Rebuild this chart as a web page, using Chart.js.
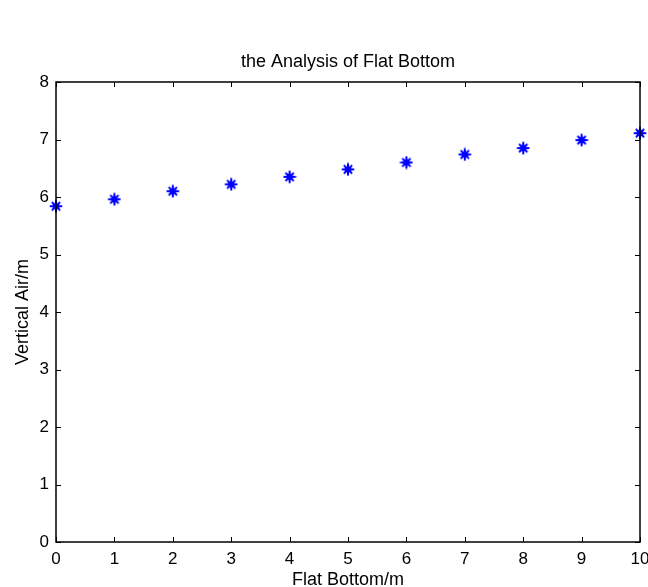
<!DOCTYPE html>
<html>
<head>
<meta charset="utf-8">
<script src="https://cdn.jsdelivr.net/npm/chart.js@4/dist/chart.umd.min.js"></script>
<style>
  html, body { margin: 0; padding: 0; background: #ffffff; }
  #wrap { width: 648px; height: 587px; }
</style>
</head>
<body>
<div id="wrap"><canvas id="c" width="648" height="587"></canvas></div>
<script>
// Flat bottom positions (m) and the vertical air measured at each one (m)
const flatBottom = [0, 1, 2, 3, 4, 5, 6, 7, 8, 9, 10];
const verticalAir = [5.84, 5.96, 6.10, 6.22, 6.35, 6.48, 6.60, 6.74, 6.85, 6.99, 7.11];

const xTicks = [0, 1, 2, 3, 4, 5, 6, 7, 8, 9, 10];
const yTicks = [0, 1, 2, 3, 4, 5, 6, 7, 8];

const FONT = "'Liberation Sans', Arial, sans-serif";
const BLUE = '#0000ff';

// Asterisk-style marker with a solid core, drawn once into a small canvas
function makeMarker() {
  const m = document.createElement('canvas');
  m.width = 14; m.height = 14;
  const g = m.getContext('2d');
  g.strokeStyle = BLUE;
  g.fillStyle = BLUE;
  g.lineWidth = 2;
  g.lineCap = 'round';
  const c = 7, r = 5.5;
  g.beginPath();
  g.moveTo(c - r, c); g.lineTo(c + r, c);
  g.moveTo(c, c - r); g.lineTo(c, c + r);
  g.moveTo(c - r * 0.65, c - r * 0.65); g.lineTo(c + r * 0.65, c + r * 0.65);
  g.moveTo(c - r * 0.65, c + r * 0.65); g.lineTo(c + r * 0.65, c - r * 0.65);
  g.stroke();
  g.beginPath();
  g.moveTo(c, c - 4.5); g.lineTo(c + 4.5, c); g.lineTo(c, c + 4.5); g.lineTo(c - 4.5, c);
  g.closePath();
  g.fill();
  return m;
}

// Box around the plot area with inward tick marks on all four sides
const boxAxes = {
  id: 'boxAxes',
  afterDraw(chart) {
    const { ctx, chartArea: a, scales: { x, y } } = chart;
    const len = 5;
    ctx.save();
    ctx.strokeStyle = '#000';
    ctx.lineWidth = 1;
    ctx.beginPath();
    x.ticks.forEach(t => {
      const px = Math.round(x.getPixelForValue(t.value)) + 0.5;
      ctx.moveTo(px, a.bottom); ctx.lineTo(px, a.bottom - len);
      ctx.moveTo(px, a.top); ctx.lineTo(px, a.top + len);
    });
    y.ticks.forEach(t => {
      const py = Math.round(y.getPixelForValue(t.value)) + 0.5;
      ctx.moveTo(a.left, py); ctx.lineTo(a.left + len, py);
      ctx.moveTo(a.right, py); ctx.lineTo(a.right - len, py);
    });
    ctx.stroke();
    ctx.lineWidth = 1.5;
    ctx.strokeRect(a.left, a.top, a.right - a.left, a.bottom - a.top);
    ctx.restore();
  }
};

new Chart(document.getElementById('c'), {
  type: 'scatter',
  data: {
    datasets: [{
      data: flatBottom.map((v, i) => ({ x: v, y: verticalAir[i] })),
      pointStyle: makeMarker(),
      pointRadius: 7,
      clip: false,
      showLine: false
    }]
  },
  options: {
    responsive: false,
    animation: false,
    layout: { padding: { left: 0, right: 7, top: 0, bottom: 0 } },
    plugins: {
      legend: { display: false },
      tooltip: { enabled: false },
      title: {
        display: true,
        text: 'the Analysis of Flat Bottom',
        fullSize: false,
        color: '#000',
        font: { family: FONT, size: 18, weight: 'normal', lineHeight: 1.2 },
        padding: { top: 51, bottom: 9.4 }
      }
    },
    scales: {
      x: {
        type: 'linear',
        min: 0, max: 10,
        afterBuildTicks: s => { s.ticks = xTicks.map(v => ({ value: v })); },
        afterFit: s => { s.height = 45; s.paddingRight = 0; s.paddingLeft = 0; },
        grid: { display: false, drawTicks: false },
        border: { display: false },
        ticks: {
          color: '#000',
          padding: 7,
          maxRotation: 0,
          font: { family: FONT, size: 17 }
        },
        title: {
          display: true,
          text: 'Flat Bottom/m',
          color: '#000',
          font: { family: FONT, size: 18, lineHeight: 1.2 },
          padding: { top: 0, bottom: -4 }
        }
      },
      y: {
        type: 'linear',
        min: 0, max: 8,
        afterBuildTicks: s => { s.ticks = yTicks.map(v => ({ value: v })); },
        afterFit: s => { s.width = 56; },
        grid: { display: false, drawTicks: false },
        border: { display: false },
        ticks: {
          color: '#000',
          padding: 7,
          font: { family: FONT, size: 17 }
        },
        title: {
          display: true,
          text: 'Vertical Air/m',
          color: '#000',
          font: { family: FONT, size: 18, lineHeight: 1.2 },
          padding: { top: 12, bottom: 0 }
        }
      }
    }
  },
  plugins: [boxAxes]
});
</script>
</body>
</html>
